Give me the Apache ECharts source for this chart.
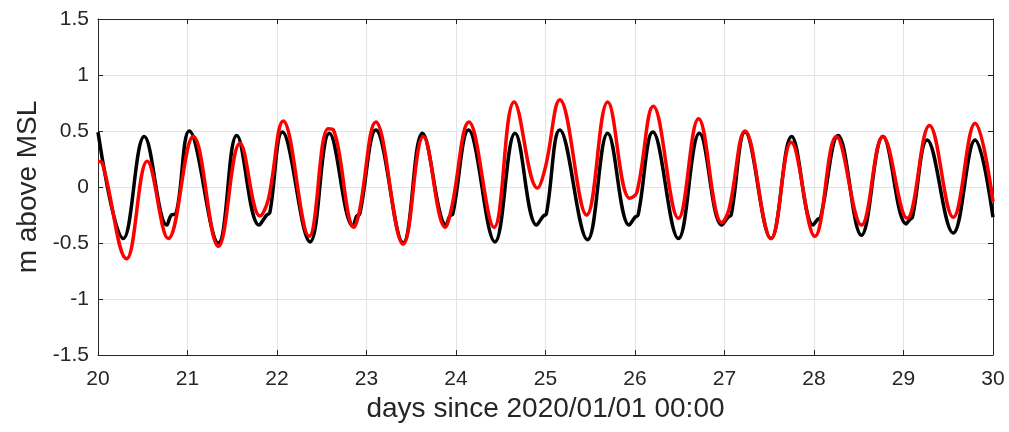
<!DOCTYPE html>
<html>
<head>
<meta charset="utf-8">
<script src="https://cdn.jsdelivr.net/npm/echarts@6/dist/echarts.min.js"></script>
<style>
  html, body { margin: 0; padding: 0; background: #fff; }
  #chart { width: 1009px; height: 432px; }
</style>
</head>
<body>
<div id="chart"></div>
<script>
const blackDays = [20.00, 20.283, 20.517, 20.77, 20.82, 20.87, 21.02, 21.345, 21.55, 21.80, 21.885, 21.92,
  22.06, 22.37, 22.585, 22.85, 22.89, 22.925, 23.105, 23.41, 23.625, 23.89, 23.93, 23.965, 24.14, 24.435, 24.66,
  24.90, 24.975, 25.01, 25.16, 25.47, 25.695, 25.935, 26.00, 26.035, 26.20, 26.485, 26.72, 26.97, 27.04, 27.075, 27.23,
  27.52, 27.75, 27.99, 28.04, 28.075, 28.27, 28.53, 28.77, 29.03, 29.07, 29.10, 29.265, 29.555, 29.80, 30.00];
const blackLevel = [0.49, -0.46, 0.45, -0.34, -0.25, -0.24, 0.50, -0.50, 0.46, -0.34, -0.25, -0.23,
  0.49, -0.49, 0.48, -0.35, -0.26, -0.24, 0.51, -0.50, 0.48, -0.34, -0.26, -0.24, 0.51, -0.49, 0.48,
  -0.34, -0.26, -0.24, 0.51, -0.47, 0.48, -0.34, -0.27, -0.25, 0.49, -0.46, 0.48, -0.34, -0.27, -0.25, 0.49,
  -0.46, 0.45, -0.34, -0.29, -0.27, 0.46, -0.43, 0.45, -0.33, -0.29, -0.27, 0.42, -0.41, 0.42, -0.27];

const redDays = [20.00, 20.05, 20.32, 20.55, 20.785, 21.065, 21.345, 21.587, 21.81, 21.90, 22.07,
  22.36, 22.57, 22.63, 22.86, 22.92, 23.105, 23.41, 23.635, 23.88, 23.95, 24.145, 24.425, 24.65,
  24.91, 25.00, 25.16, 25.46, 25.695, 25.94, 26.02, 26.205, 26.485, 26.71, 26.97, 27.05, 27.23,
  27.52, 27.745, 28.01, 28.25, 28.53, 28.77, 29.04, 29.29, 29.555, 29.80, 30.00];
const redLevel = [0.23, 0.21, -0.64, 0.23, -0.46, 0.45, -0.53, 0.39, -0.26, -0.12, 0.59,
  -0.44, 0.52, 0.51, -0.36, -0.22, 0.58, -0.51, 0.45, -0.36, -0.19, 0.58, -0.36, 0.76,
  -0.01, 0.18, 0.78, -0.25, 0.76, -0.10, -0.05, 0.72, -0.28, 0.61, -0.32, -0.20, 0.50,
  -0.46, 0.40, -0.44, 0.45, -0.34, 0.45, -0.28, 0.55, -0.27, 0.57, -0.13];

const pairs = (xs, ys) => xs.map((x, i) => [x, ys[i]]);

const chart = echarts.init(document.getElementById('chart'));
const font = 'Liberation Sans, Arial, Helvetica, sans-serif';
const lineCol = '#262626';
const boxAxis = {
  show: true,
  axisLine: { show: true, onZero: false, lineStyle: { color: lineCol, width: 1 } },
  axisTick: { show: true, inside: true, length: 5, lineStyle: { color: lineCol } },
  axisLabel: { show: false },
  splitLine: { show: false }
};

chart.setOption({
  animation: false,
  grid: { left: 98, right: 16, top: 19, bottom: 77 },
  xAxis: [
    {
      type: 'value', min: 20, max: 30, interval: 1,
      name: 'days since 2020/01/01 00:00',
      nameLocation: 'middle', nameGap: 35,
      nameTextStyle: { fontFamily: font, fontSize: 28, color: '#262626' },
      axisLine: { onZero: false, lineStyle: { color: lineCol, width: 1 } },
      axisTick: { inside: true, length: 5, lineStyle: { color: lineCol } },
      axisLabel: { fontFamily: font, fontSize: 21, color: '#262626', margin: 14 },
      splitLine: { show: true, lineStyle: { color: '#e3e3e3', width: 1 } }
    },
    Object.assign({}, boxAxis, { type: 'value', position: 'top', min: 20, max: 30, interval: 1 })
  ],
  yAxis: [
    {
      type: 'value', min: -1.5, max: 1.5, interval: 0.5,
      name: 'm above MSL',
      nameLocation: 'middle', nameGap: 52,
      nameTextStyle: { fontFamily: font, fontSize: 28, color: '#262626' },
      axisLine: { show: true, onZero: false, lineStyle: { color: lineCol, width: 1 } },
      axisTick: { show: true, inside: true, length: 5, lineStyle: { color: lineCol } },
      axisLabel: { fontFamily: font, fontSize: 21, color: '#262626', margin: 9 },
      splitLine: { show: true, lineStyle: { color: '#e3e3e3', width: 1 } }
    },
    Object.assign({}, boxAxis, { type: 'value', position: 'right', min: -1.5, max: 1.5, interval: 0.5 })
  ],
  series: [
    {
      type: 'line', data: pairs(blackDays, blackLevel),
      showSymbol: false, smooth: 0.4, clip: true,
      lineStyle: { color: '#000000', width: 3.5 }
    },
    {
      type: 'line', data: pairs(redDays, redLevel),
      showSymbol: false, smooth: 0.4, clip: true,
      lineStyle: { color: '#ff0000', width: 3.5 }
    }
  ]
});
</script>
</body>
</html>
